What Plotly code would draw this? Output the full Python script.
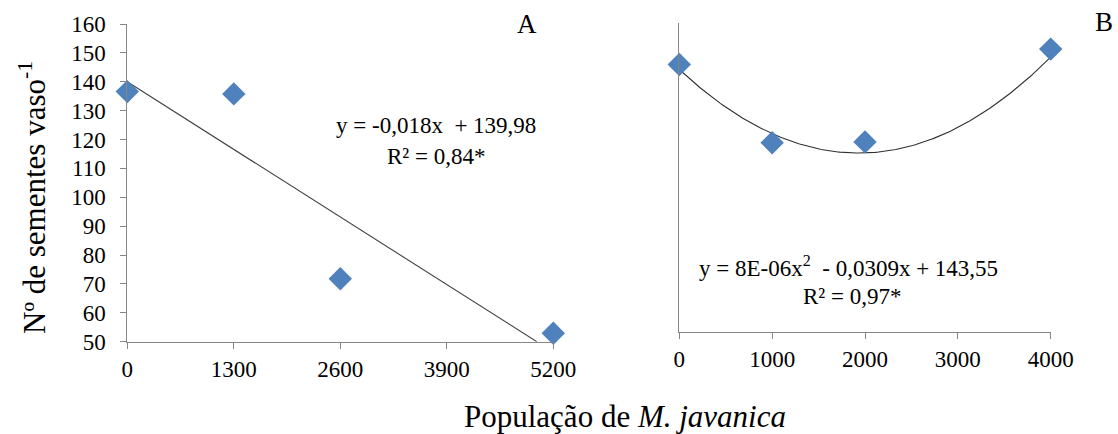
import numpy as np
import plotly.graph_objects as go

# ---- data ----
pop_a = [0, 1300, 2600, 5200]
seeds_a = [136.6, 135.8, 71.8, 52.9]
pop_b = [0, 1000, 2000, 4000]
seeds_b = [145.3, 117.4, 117.7, 150.8]

ticks_a = [0, 1300, 2600, 3900, 5200]
ticks_b = [0, 1000, 2000, 3000, 4000]
yticks = [50, 60, 70, 80, 90, 100, 110, 120, 130, 140, 150, 160]

# fitted equations shown on the chart
slope_a, inter_a = -0.018, 139.98
c2_b, c1_b, c0_b = 8e-06, -0.0309, 143.55

eq_a = ["y = -0,018x  + 139,98", "R² = 0,84*"]
eq_b = ["y = 8E-06x<sup>2</sup>  - 0,0309x + 143,55", "R² = 0,97*"]
y_title = "Nº de sementes vaso<sup>-1</sup>"
x_title = "População de <i>M. javanica</i>"

W, H = 1118, 434
def px(x):
    return x / W
def py(y):
    return 1 - y / H

FONT = "Times New Roman, Liberation Serif, DejaVu Serif, serif"
BLUE = "#4F81BD"
AXC = "#868686"

fig = go.Figure()

xa_end = (50 - inter_a) / slope_a
xa = np.array([0, xa_end])
fig.add_trace(go.Scatter(x=xa, y=slope_a * xa + inter_a, mode="lines",
                         line=dict(color="#404040", width=1.1),
                         xaxis="x", yaxis="y", showlegend=False, cliponaxis=False))
fig.add_trace(go.Scatter(x=pop_a, y=seeds_a, mode="markers",
                         marker=dict(symbol="diamond", size=18, color=BLUE),
                         xaxis="x", yaxis="y", showlegend=False, cliponaxis=False))

xb = np.linspace(0, max(pop_b), 200)
fig.add_trace(go.Scatter(x=xb, y=c2_b * xb**2 + c1_b * xb + c0_b, mode="lines",
                         line=dict(color="#303030", width=1.1),
                         xaxis="x2", yaxis="y2", showlegend=False, cliponaxis=False))
fig.add_trace(go.Scatter(x=pop_b, y=seeds_b, mode="markers",
                         marker=dict(symbol="diamond", size=18, color=BLUE),
                         xaxis="x2", yaxis="y2", showlegend=False, cliponaxis=False))

common_x = dict(showgrid=False, zeroline=False, showline=True, linecolor=AXC, linewidth=1,
                ticks="outside", ticklen=6, tickcolor=AXC, tickwidth=1, automargin=False,
                tickfont=dict(family=FONT, size=23, color="black"))

fig.update_layout(
    width=W, height=H,
    margin=dict(l=0, r=0, t=0, b=0, pad=0, autoexpand=False),
    paper_bgcolor="white", plot_bgcolor="white",
    font=dict(family=FONT, color="black"),
    showlegend=False,
    xaxis=dict(domain=[px(127.3), px(553.3)], range=[0, 5200], tickvals=ticks_a,
               ticktext=[str(v) for v in ticks_a], anchor="y", ticklabelstandoff=1, **common_x),
    yaxis=dict(domain=[py(341.7), py(24)], range=[50, 160], tickvals=yticks,
               ticktext=[str(v) for v in yticks], anchor="x", ticklabelstandoff=10, **common_x),
    xaxis2=dict(domain=[px(679.3), px(1050.7)], range=[0, 4000], tickvals=ticks_b,
                ticktext=[str(v) for v in ticks_b], anchor="y2", ticklabelstandoff=1, **common_x),
    yaxis2=dict(domain=[py(331.7), py(23.3)], range=[50, 160], anchor="x2", automargin=False,
                showgrid=False, zeroline=False, showline=True, linecolor=AXC, linewidth=1,
                showticklabels=False, ticks=""),
)

ann = []
def add(text, x, y, size, angle=0):
    ann.append(dict(text=text, x=px(x), y=py(y), xref="paper", yref="paper",
                    showarrow=False, xanchor="center", yanchor="middle",
                    textangle=angle, font=dict(family=FONT, size=size, color="black")))

add(eq_a[0], 436, 126, 23)
add(eq_a[1], 436, 156, 23)
add(eq_b[0], 848, 266, 23)
add(eq_b[1], 852, 296, 23)
add("A", 527, 24, 27)
add("B", 1104, 22, 27)
add(x_title, 625, 416, 31)
add(y_title, 32, 198, 31, angle=-90)
fig.update_layout(annotations=ann)

fig.write_html("out.html", config={"displayModeBar": False},
               post_script="document.body.style.margin='0';document.body.style.overflow='hidden';")
